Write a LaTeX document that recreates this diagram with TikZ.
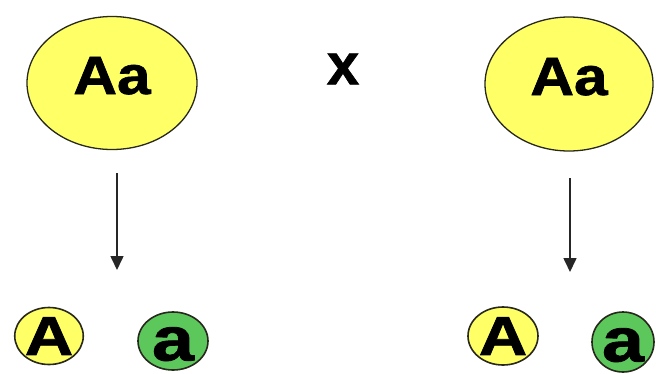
\documentclass[tikz,border=0pt]{standalone}
\usepackage{fontspec}
\setmainfont{Liberation Sans}
\newfontfamily\heavy{Liberation Sans Bold}[FakeBold=1.2]
\usetikzlibrary{arrows.meta,shapes.geometric}
\definecolor{yel}{RGB}{255,255,102}
\definecolor{grn}{RGB}{92,200,92}
\definecolor{rim}{RGB}{40,40,30}
\begin{document}
\begin{tikzpicture}[x=1pt,y=-1pt,
  cell/.style={ellipse,draw=rim,line width=1.3pt,inner sep=0pt},
  parent/.style={cell,fill=yel,minimum width=170pt,minimum height=133pt,text height=22pt,text depth=0pt,font=\fontsize{54}{54}\selectfont\heavy},
  gamY/.style={cell,line width=1.6pt,fill=yel,font=\fontsize{55}{55}\selectfont\heavy},
  gamG/.style={cell,line width=1.6pt,fill=grn,text height=39pt,text depth=0pt,font=\fontsize{62}{62}\selectfont\heavy},
  meio/.style={line width=1.6pt,draw=black!85,-{Triangle[length=14pt,width=13pt]}}]
\useasboundingbox (0,0) rectangle (656,373);
\node[parent] (p1) at (112,83) {\scalebox{1.12}[1]{Aa}};
\node[parent,minimum width=168pt,minimum height=134pt] (p2) at (569,84) {\scalebox{1.12}[1]{Aa}};
\node[font=\fontsize{58}{58}\selectfont\heavy] (cross) at (343,69) {x};
\coordinate (s1) at (117,173);
\coordinate (e1) at (117,270);
\coordinate (s2) at (570,178);
\coordinate (e2) at (570,272);
\draw[meio] (s1) -- (e1);
\draw[meio] (s2) -- (e2);
\node[gamY,minimum width=68pt,minimum height=57pt] (g1) at (49,336) {\scalebox{1.22}[1]{A}};
\node[gamG,minimum width=70pt,minimum height=58pt] (g2) at (173,341) {\scalebox{1.22}[1]{a}};
\node[gamY,minimum width=70pt,minimum height=58pt] (g3) at (503,336) {\scalebox{1.22}[1]{A}};
\node[gamG,minimum width=62pt,minimum height=60pt] (g4) at (623,342) {\scalebox{1.22}[1]{a}};
\end{tikzpicture}
\end{document}
